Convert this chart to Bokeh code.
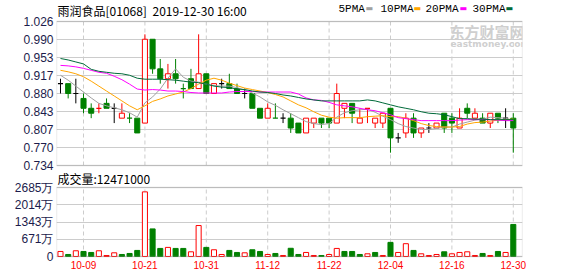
from bokeh.plotting import figure
from bokeh.models import Range1d, FixedTicker, Label, ColumnDataSource, BoxAnnotation
from bokeh.embed import file_html
from bokeh.resources import INLINE

# ---------------- data ----------------
dates = ["10-03", "10-04", "10-08", "10-09", "10-10", "10-11", "10-14", "10-15", "10-16", "10-17",
         "10-18", "10-21", "10-22", "10-23", "10-24", "10-25", "10-28", "10-29", "10-30", "10-31",
         "11-01", "11-04", "11-05", "11-06", "11-07", "11-08", "11-11", "11-12", "11-13", "11-14",
         "11-15", "11-18", "11-19", "11-20", "11-21", "11-22", "11-25", "11-26", "11-27", "11-28",
         "11-29", "12-02", "12-03", "12-04", "12-05", "12-06", "12-09", "12-10", "12-11", "12-12",
         "12-13", "12-16", "12-17", "12-18", "12-19", "12-20", "12-23", "12-24", "12-27", "12-30"]

open_ = [0.90, 0.90, 0.88, 0.87, 0.85, 0.85, 0.86, 0.85, 0.83, 0.83,
         0.83, 0.82, 0.99, 0.93, 0.91, 0.92, 0.89, 0.91, 0.89, 0.92,
         0.88, 0.90, 0.90, 0.89, 0.88, 0.88, 0.85, 0.83, 0.83, 0.83,
         0.83, 0.82, 0.80, 0.82, 0.83, 0.83, 0.82, 0.85, 0.86, 0.82,
         0.85, 0.82, 0.82, 0.85, 0.79, 0.80, 0.83, 0.80, 0.81, 0.81,
         0.84, 0.83, 0.81, 0.85, 0.83, 0.83, 0.82, 0.84, 0.83, 0.83]
high = [0.91, 0.90, 0.91, 0.88, 0.86, 0.86, 0.87, 0.86, 0.86, 0.84,
        0.83, 1.00, 0.99, 0.95, 0.94, 0.95, 0.90, 0.93, 1.00, 0.92,
        0.90, 0.91, 0.92, 0.90, 0.89, 0.88, 0.85, 0.86, 0.86, 0.84,
        0.84, 0.82, 0.83, 0.83, 0.83, 0.83, 0.90, 0.86, 0.86, 0.85,
        0.85, 0.83, 0.84, 0.85, 0.80, 0.84, 0.84, 0.81, 0.82, 0.82,
        0.84, 0.84, 0.85, 0.86, 0.85, 0.84, 0.84, 0.84, 0.85, 0.84]
low = [0.88, 0.87, 0.86, 0.84, 0.83, 0.84, 0.85, 0.82, 0.83, 0.82,
       0.80, 0.82, 0.92, 0.90, 0.89, 0.90, 0.87, 0.89, 0.89, 0.88,
       0.88, 0.89, 0.89, 0.88, 0.87, 0.85, 0.83, 0.83, 0.83, 0.82,
       0.80, 0.80, 0.80, 0.81, 0.81, 0.81, 0.82, 0.83, 0.82, 0.82,
       0.82, 0.81, 0.81, 0.76, 0.78, 0.79, 0.79, 0.79, 0.80, 0.81,
       0.80, 0.80, 0.81, 0.83, 0.83, 0.82, 0.81, 0.82, 0.81, 0.76]
close = [0.90, 0.88, 0.88, 0.85, 0.84, 0.85, 0.85, 0.85, 0.84, 0.83,
         0.80, 0.99, 0.93, 0.91, 0.92, 0.91, 0.89, 0.89, 0.92, 0.88,
         0.90, 0.90, 0.89, 0.88, 0.88, 0.85, 0.83, 0.85, 0.83, 0.83,
         0.81, 0.80, 0.83, 0.83, 0.82, 0.82, 0.88, 0.86, 0.84, 0.83,
         0.85, 0.83, 0.84, 0.79, 0.79, 0.83, 0.80, 0.81, 0.81, 0.82,
         0.81, 0.82, 0.83, 0.84, 0.84, 0.82, 0.84, 0.83, 0.83, 0.81]
# volume in 万 (10,000 shares)
volume = [196, 79, 223, 196, 157, 223, 39, 144, 79, 118,
          236, 2515, 1074, 314, 354, 314, 314, 183, 1205, 354,
          262, 79, 236, 157, 144, 262, 196, 79, 118, 39,
          320, 79, 157, 39, 39, 79, 314, 196, 196, 79,
          105, 157, 39, 550, 157, 498, 236, 105, 39, 79,
          183, 105, 157, 183, 39, 118, 39, 196, 157, 1247.1]

ma5 = [0.917, 0.907, 0.895, 0.883, 0.871, 0.860, 0.855, 0.851, 0.847, 0.841,
       0.832, 0.861, 0.873, 0.889, 0.911, 0.930, 0.913, 0.905, 0.903, 0.899,
       0.896, 0.895, 0.895, 0.892, 0.887, 0.881, 0.873, 0.863, 0.856, 0.847,
       0.839, 0.831, 0.823, 0.819, 0.817, 0.819, 0.832, 0.841, 0.845, 0.847,
       0.848, 0.842, 0.834, 0.827, 0.819, 0.813, 0.810, 0.807, 0.807, 0.809,
       0.812, 0.812, 0.818, 0.822, 0.826, 0.828, 0.832, 0.831, 0.830, 0.825]
ma10 = [0.927, 0.924, 0.920, 0.914, 0.905, 0.895, 0.885, 0.875, 0.865, 0.855,
        0.847, 0.855, 0.864, 0.869, 0.875, 0.879, 0.883, 0.890, 0.899, 0.907,
        0.911, 0.907, 0.901, 0.896, 0.891, 0.888, 0.885, 0.882, 0.878, 0.873,
        0.865, 0.857, 0.851, 0.843, 0.836, 0.832, 0.830, 0.831, 0.831, 0.831,
        0.833, 0.834, 0.835, 0.833, 0.833, 0.830, 0.825, 0.819, 0.815, 0.813,
        0.812, 0.812, 0.813, 0.818, 0.821, 0.822, 0.824, 0.826, 0.827, 0.828]
ma20 = [0.937, 0.936, 0.934, 0.931, 0.927, 0.923, 0.921, 0.915, 0.908, 0.899,
        0.889, 0.887, 0.888, 0.887, 0.885, 0.885, 0.884, 0.882, 0.881, 0.881,
        0.881, 0.881, 0.883, 0.884, 0.884, 0.884, 0.883, 0.883, 0.883, 0.883,
        0.883, 0.879, 0.871, 0.867, 0.866, 0.862, 0.857, 0.855, 0.853, 0.850,
        0.847, 0.845, 0.841, 0.837, 0.831, 0.829, 0.827, 0.825, 0.825, 0.825,
        0.825, 0.825, 0.826, 0.827, 0.827, 0.827, 0.827, 0.826, 0.825, 0.825]
ma30 = [0.951, 0.948, 0.944, 0.940, 0.929, 0.925, 0.923, 0.921, 0.920, 0.917,
        0.911, 0.909, 0.909, 0.909, 0.908, 0.907, 0.905, 0.903, 0.902, 0.899,
        0.895, 0.893, 0.892, 0.889, 0.888, 0.885, 0.883, 0.882, 0.880, 0.877,
        0.875, 0.872, 0.869, 0.867, 0.865, 0.865, 0.865, 0.865, 0.865, 0.865,
        0.867, 0.865, 0.861, 0.857, 0.853, 0.850, 0.847, 0.843, 0.840, 0.839,
        0.837, 0.833, 0.829, 0.829, 0.828, 0.828, 0.827, 0.827, 0.827, 0.827]

price_ticks = [0.734, 0.7705, 0.807, 0.8435, 0.880, 0.9165, 0.953, 0.9895, 1.026]
price_tick_labels = ["0.734", "0.770", "0.807", "0.843", "0.880", "0.917", "0.953", "0.990", "1.026"]
vol_ticks = [0, 671.25, 1342.5, 2013.75, 2685]
vol_tick_labels = ["0", "671万", "1343万", "2014万", "2685万"]
date_tick_idx = [3, 11, 19, 27, 35, 43, 51, 59]

title_name = "雨润食品[01068]"
title_time = "2019-12-30 16:00"
vol_title = "成交量:12471000"
legend_names = ["5PMA", "10PMA", "20PMA", "30PMA"]

# ---------------- styles / layout ----------------
RED = "#ff0000"
GREEN = "#008000"
BLACK = "#000000"
MA_COLORS = ["#a0a0a0", "#ffa500", "#ff00ff", "#006a3a"]
GRID = "#cccccc"
OUTLINE = "#999999"
AXIS_TXT = "#1c1c4c"
HW = 0.33              # half body width in index units
X0, X1 = -0.52, 60.2   # x extent of both boxes
W, H = 578, 276
FRAME_BOTTOM = 258     # canvas y of the frame bottom (date labels below)
P_TOP, P_BOT = 21, 165     # canvas y of the price box
V_TOP, V_BOT = 187, 256    # canvas y of the volume box

n = len(close)
xs = list(range(n))
prev = [None] + close[:-1]

body = dict(left=[], right=[], top=[], bottom=[], fill=[], line=[])
wick = dict(x0=[], y0=[], x1=[], y1=[], color=[])
cross = dict(x0=[], y0=[], x1=[], y1=[], color=[])
for i in xs:
    o, h, l, c = open_[i], high[i], low[i], close[i]
    if c == o:
        if prev[i] is None or c == prev[i]:
            col = BLACK
        elif c > prev[i]:
            col = RED
        else:
            col = GREEN
        wick["x0"].append(i); wick["x1"].append(i)
        wick["y0"].append(l); wick["y1"].append(h); wick["color"].append(col)
        cross["x0"].append(i - HW); cross["x1"].append(i + HW)
        cross["y0"].append(c); cross["y1"].append(c); cross["color"].append(col)
        continue
    col = RED if c > o else GREEN
    top, bot = max(o, c), min(o, c)
    if h > top:
        wick["x0"].append(i); wick["x1"].append(i)
        wick["y0"].append(top); wick["y1"].append(h); wick["color"].append(col)
    if l < bot:
        wick["x0"].append(i); wick["x1"].append(i)
        wick["y0"].append(l); wick["y1"].append(bot); wick["color"].append(col)
    body["left"].append(i - HW); body["right"].append(i + HW)
    body["top"].append(top); body["bottom"].append(bot)
    body["fill"].append("#ffffff" if c > o else GREEN)
    body["line"].append(col)

vol_up = [prev[i] is None or close[i] >= prev[i] for i in xs]
vol_src = ColumnDataSource(dict(
    left=[i - HW for i in xs], right=[i + HW for i in xs],
    top=volume, bottom=[0] * n,
    fill=["#ffffff" if u else GREEN for u in vol_up],
    line=[RED if u else GREEN for u in vol_up],
))

# price range spans the whole frame (canvas y 0..258), box 0.734..1.026 at y 21..165
PX = (price_ticks[-1] - price_ticks[0]) / (P_BOT - P_TOP)
p_start = price_ticks[0] - (FRAME_BOTTOM - P_BOT) * PX
p_end = price_ticks[-1] + P_TOP * PX
# volume range on the same frame, box 0..2685 at y 256..187
VX = vol_ticks[-1] / (V_BOT - V_TOP)
v_start = vol_ticks[0] - (FRAME_BOTTOM - V_BOT) * VX
v_end = vol_ticks[-1] + V_TOP * VX

p = figure(width=W, height=H, x_range=Range1d(X0, X1), y_range=Range1d(p_start, p_end),
           output_backend="svg", toolbar_location=None, title=None,
           min_border_left=56, min_border_right=56, min_border_top=0,
           min_border_bottom=H - FRAME_BOTTOM)
p.extra_y_ranges = {"vol": Range1d(v_start, v_end)}
p.outline_line_color = None
p.background_fill_color = "#ffffff"
p.border_fill_color = "#ffffff"

# one left axis carries both the price ticks and the volume ticks (placed via the vol range)
vol_in_price = [p_start + (t - v_start) / (v_end - v_start) * (p_end - p_start) for t in vol_ticks]
all_ticks = price_ticks + vol_in_price
all_labels = price_tick_labels + vol_tick_labels
ya = p.yaxis[0]
ya.ticker = FixedTicker(ticks=all_ticks)
ya.major_label_overrides = dict(zip(all_ticks, all_labels))
ya.axis_line_color = None
ya.major_tick_line_color = None
ya.minor_tick_line_color = None
ya.major_tick_out = 0
ya.major_tick_in = 0
ya.major_label_standoff = 3
ya.major_label_text_font = "Liberation Sans"
ya.major_label_text_font_size = "12px"
ya.major_label_text_color = AXIS_TXT
p.ygrid.grid_line_color = GRID

xa = p.xaxis[0]
xa.ticker = FixedTicker(ticks=date_tick_idx)
xa.major_label_overrides = {i: dates[i] for i in date_tick_idx}
xa.axis_line_color = None
xa.major_tick_line_color = None
xa.minor_tick_line_color = None
xa.major_tick_out = 0
xa.major_tick_in = 0
xa.major_label_standoff = 2
xa.major_label_text_font = "Liberation Sans"
xa.major_label_text_font_size = "10px"
xa.major_label_text_color = RED
p.xgrid.grid_line_color = None

k = len(date_tick_idx)
# dashed vertical grid inside both boxes
p.segment(x0=date_tick_idx, x1=date_tick_idx, y0=[price_ticks[0]] * k, y1=[price_ticks[-1]] * k,
          line_color=GRID, line_dash="4 3", line_width=1)
p.segment(x0=date_tick_idx, x1=date_tick_idx, y0=[vol_ticks[0]] * k, y1=[vol_ticks[-1]] * k,
          line_color=GRID, line_dash="4 3", line_width=1, y_range_name="vol")

# candles
p.segment(x0="x0", y0="y0", x1="x1", y1="y1", color="color", line_width=1,
          source=ColumnDataSource(wick))
p.quad(left="left", right="right", top="top", bottom="bottom", fill_color="fill",
       line_color="line", line_width=1, source=ColumnDataSource(body))
p.segment(x0="x0", y0="y0", x1="x1", y1="y1", color="color", line_width=1.2,
          source=ColumnDataSource(cross))
for series, colr in zip([ma5, ma10, ma20, ma30], MA_COLORS):
    p.line(xs, series, line_color=colr, line_width=1)

# volume
p.quad(left="left", right="right", top="top", bottom="bottom", fill_color="fill",
       line_color="line", line_width=1, source=vol_src, y_range_name="vol")

# box outlines
p.add_layout(BoxAnnotation(left=X0, right=X1, bottom=price_ticks[0], top=price_ticks[-1],
                           fill_color=None, line_color=OUTLINE, line_width=1.3))
p.add_layout(BoxAnnotation(left=X0, right=X1, bottom=vol_ticks[0], top=vol_ticks[-1],
                           y_range_name="vol", fill_color=None, line_color=OUTLINE, line_width=1.3))


def lab(text, cx, cy, font, size, color, style="normal"):
    # cx, cy: canvas position (left edge, vertical middle); converted to frame-screen units
    p.add_layout(Label(x=cx - 56, y=FRAME_BOTTOM - cy, x_units="screen", y_units="screen",
                       text=text, text_font=font, text_font_size=size, text_color=color,
                       text_font_style=style, text_baseline="middle", text_align="left"))


lab(title_name, 57, 9.7, "Noto Sans CJK SC", "12px", BLACK)
lab(title_time, 152, 9.7, "Noto Sans CJK SC", "12px", BLACK)
leg_x = [338, 380, 425, 472]
sq_x = [365, 413, 459, 505]
for name, lx, sx, colr in zip(legend_names, leg_x, sq_x, MA_COLORS):
    lab(name, lx, 8.7, "Liberation Mono", "11px", BLACK)
    lab("▬", sx, 8, "DejaVu Sans", "8px", colr)

# watermark
lab("东方财富网", 449, 31, "Noto Sans CJK SC", "15px", "#cfcfcf", "bold")
lab("eastmoney.com", 450, 43.5, "DejaVu Sans", "9px", "#cfcfcf", "bold")

lab(vol_title, 57, 177.5, "Noto Sans CJK SC", "12px", BLACK)

open("out.html", "w").write(file_html(p, INLINE))
